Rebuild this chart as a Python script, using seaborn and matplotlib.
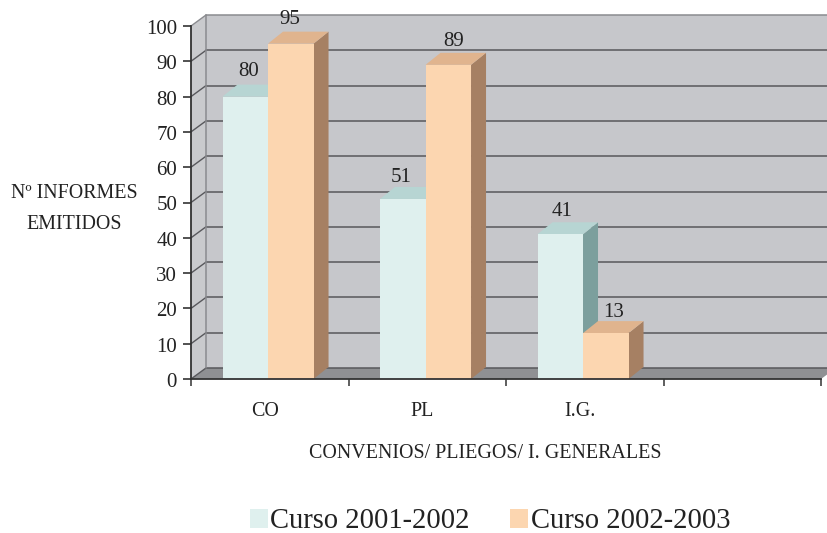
import numpy as np
import pandas as pd
import matplotlib
matplotlib.use("Agg")
import matplotlib.pyplot as plt
import seaborn as sns
from matplotlib.patches import Polygon, Patch
from matplotlib.transforms import ScaledTranslation

categories = ["CO", "PL", "I.G.", ""]
bar_categories = ["CO", "PL", "I.G."]
curso_2001 = [80, 51, 41]
curso_2002 = [95, 89, 13]
series_names = ["Curso 2001-2002", "Curso 2002-2003"]
y_ticks = list(range(0, 101, 10))

W, H, DPI = 828, 533, 100
DEPTH_X, BAR_DEPTH_Y, WALL_DEPTH_Y = 15, 12, 11
LABEL_NUDGE_X = [[3, -2, 2], [-1, 5, 8]]
LABEL_NUDGE_Y = [[28, 24, 25], [27, 26, 23]]
FRONT = ["#dff0ee", "#fcd6b0"]
TOP = ["#b7d5d3", "#e0b48e"]
SIDE = ["#7c9f9d", "#a68063"]
WALL = "#c6c7cb"
FLOOR = "#8f9093"
GRID = "#58585c"
INK = "#222222"

sns.set_theme(style="white")
plt.rcParams["font.family"] = ["Liberation Serif", "DejaVu Serif"]

df = pd.DataFrame({
    "cat": bar_categories * 2,
    "serie": [series_names[0]] * 3 + [series_names[1]] * 3,
    "val": curso_2001 + curso_2002,
})

fig = plt.figure(figsize=(W / DPI, H / DPI), dpi=DPI, facecolor="white")
ax = fig.add_axes([191 / W, 1 - 379 / H, 630 / W, 353 / H])
sns.barplot(data=df, x="cat", y="val", hue="serie", order=categories,
            hue_order=series_names, palette=FRONT, width=0.578, gap=0,
            saturation=1, legend=False, ax=ax, edgecolor="none", linewidth=0)

x0, x1 = -0.489, 3.511
ax.set_xlim(x0, x1)
ax.set_ylim(0, 100)
ax.patch.set_visible(False)
dx = DEPTH_X / 630 * (x1 - x0)
dy = BAR_DEPTH_Y / 353 * 100
wy = WALL_DEPTH_Y / 353 * 100


def face(pts, color, z, edge="none", lw=0):
    ax.add_patch(Polygon(pts, closed=True, facecolor=color, edgecolor=edge,
                         linewidth=lw, clip_on=False, zorder=z))


# walls and floor
face([(x0 + dx, wy), (x1 + dx, wy), (x1 + dx, 100 + wy), (x0 + dx, 100 + wy)], WALL, 0.1)
face([(x0, 0), (x0 + dx, wy), (x0 + dx, 100 + wy), (x0, 100)], "#c9cacd", 0.2)
face([(x0, 0), (x1, 0), (x1 + dx, wy), (x0 + dx, wy)], FLOOR, 0.3)
for v in y_ticks:
    c = "#8a8b8f" if v == 100 else GRID
    ax.plot([x0 + dx, x1 + dx], [v + wy, v + wy], color=c, lw=1.1, clip_on=False, zorder=0.5)
    ax.plot([x0, x0 + dx], [v, v + wy], color=GRID if v < 100 else "#8a8b8f",
            lw=1.0, clip_on=False, zorder=0.5)
ax.plot([x0 + dx, x0 + dx], [wy, 100 + wy], color="#8a8b8f", lw=1.1, clip_on=False, zorder=0.6)

# pseudo 3D bars built from the bars seaborn drew
z = 2.0
for s, cont in enumerate(ax.containers):
    shown = [b for b in cont if np.isfinite(b.get_height())]
    for i, bar in enumerate(shown):
        bx, bw, bh = bar.get_x(), bar.get_width(), bar.get_height()
        face([(bx + bw, 0), (bx + bw + dx, dy), (bx + bw + dx, bh + dy), (bx + bw, bh)], SIDE[s], z)
        face([(bx, bh), (bx + bw, bh), (bx + bw + dx, bh + dy), (bx + dx, bh + dy)], TOP[s], z + 0.1)
        bar.set_zorder(z + 0.2)
        bar.set_clip_on(False)
        ax.annotate(f"{bh:.0f}", (bx + bw / 2, bh),
                    xytext=(LABEL_NUDGE_X[s][i] * 0.72, LABEL_NUDGE_Y[s][i] * 0.72),
                    textcoords="offset points", ha="center", va="center_baseline",
                    fontsize=15, color=INK, zorder=9, annotation_clip=False)
        z += 1

# axes and ticks
for name in ("top", "right"):
    ax.spines[name].set_visible(False)
for name in ("left", "bottom"):
    ax.spines[name].set_color("#333333")
    ax.spines[name].set_linewidth(1.3)
    ax.spines[name].set_zorder(20)
ax.set_yticks(y_ticks)
ax.tick_params(axis="y", length=6, width=1.2, color="#333333", labelcolor=INK,
               labelsize=15, pad=4, left=True)
ax.set_xticks(range(len(categories)))
ax.set_xticklabels(categories)
ax.set_xticks([x0 + i for i in range(5)], minor=True)
ax.tick_params(axis="x", which="major", length=0, pad=16.5, labelsize=14.4, labelcolor=INK, bottom=False)
ax.tick_params(axis="x", which="minor", length=5, width=1.1, color="#333333", bottom=True)
shift = ScaledTranslation(-3 / DPI, 0, fig.dpi_scale_trans)
for lab in ax.get_xticklabels():
    lab.set_transform(lab.get_transform() + shift)
yshift = ScaledTranslation(0, -1 / DPI, fig.dpi_scale_trans)
for lab in ax.get_yticklabels():
    lab.set_transform(lab.get_transform() + yshift)
ax.set_xlabel("")
ax.set_ylabel("")

fig.text(74 / W, 1 - 193 / H, "Nº INFORMES", ha="center", va="center", fontsize=14.4, color=INK)
fig.text(74 / W, 1 - 224 / H, "EMITIDOS", ha="center", va="center", fontsize=14.4, color=INK)
fig.text(485 / W, 1 - 453 / H, "CONVENIOS/ PLIEGOS/ I. GENERALES", ha="center", va="center",
         fontsize=14.4, color=INK)

handles = [Patch(facecolor=FRONT[i], edgecolor="none", label=series_names[i]) for i in range(2)]
fig.legend(handles=handles, ncol=2, loc="center", bbox_to_anchor=(490 / W, 1 - 521.5 / H),
           frameon=False, fontsize=20.6, handlelength=0.63, handleheight=0.63, handletextpad=0.1,
           columnspacing=1.4, labelcolor=INK, borderpad=0)

fig.savefig("out.png", dpi=DPI, facecolor="white")
